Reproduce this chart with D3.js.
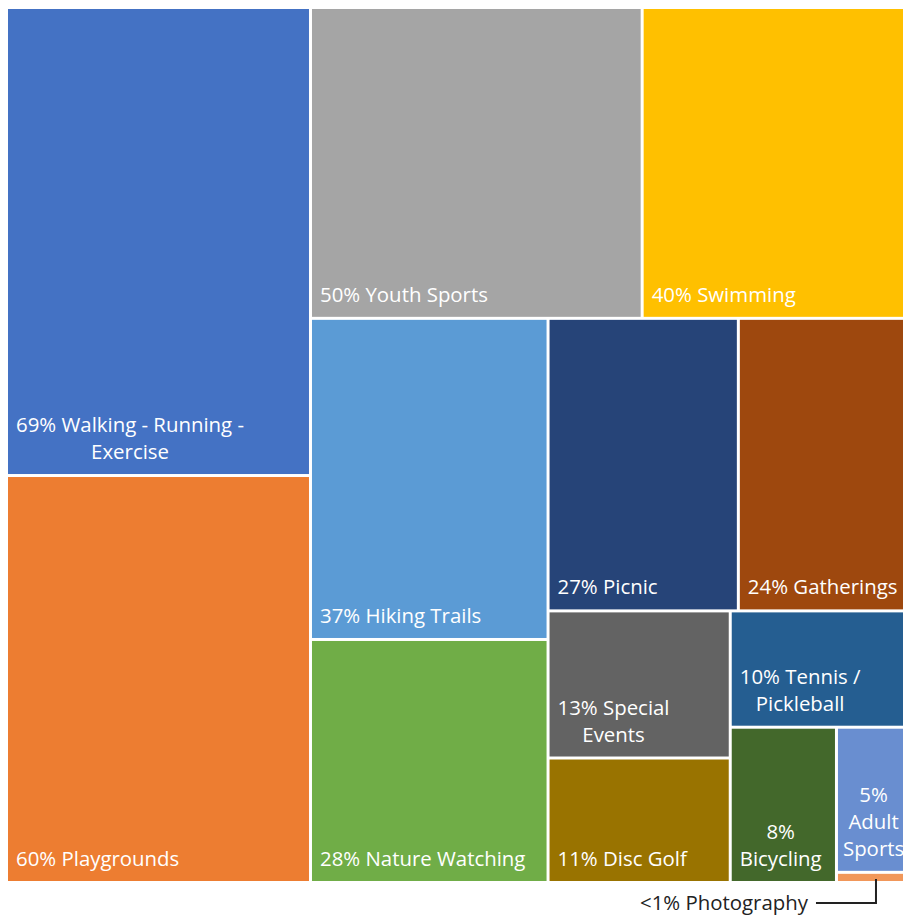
<!DOCTYPE html>
<html>
<head>
<meta charset="utf-8">
<script src="https://cdn.jsdelivr.net/npm/d3@7"></script>
<style>
  body { margin: 0; background: #fff; }
  text { font-family: "Open Sans", "Noto Sans", sans-serif; }
</style>
</head>
<body>
<div id="chart"></div>
<script>
// Activities and the share of respondents who use them
const activities = [
    'Walking - Running - Exercise', 'Playgrounds', 'Youth Sports', 'Swimming',
    'Hiking Trails', 'Nature Watching', 'Picnic', 'Gatherings',
    'Special Events', 'Disc Golf', 'Tennis / Pickleball', 'Bicycling',
    'Adult Sports', 'Photography'
];
const shares = [69, 60, 50, 40, 37, 28, 27, 24, 13, 11, 10, 8, 5, 0.35];
const shareLabels = ['69%', '60%', '50%', '40%', '37%', '28%', '27%', '24%',
    '13%', '11%', '10%', '8%', '5%', '<1%'];
const colors = ['#4472C4', '#ED7D31', '#A5A5A5', '#FFC000', '#5B9BD5', '#70AD47',
    '#264478', '#9E480E', '#636363', '#997300', '#255E91', '#43682B',
    '#698ED0', '#F1975A'];

const width = 903;
const height = 915;
const area = { x0: 8, y0: 9, x1: 906, y1: 881 };

const svg = d3.select('#chart')
    .append('svg')
    .attr('width', width)
    .attr('height', height);

const data = {
    name: 'root',
    children: activities.map((name, i) => ({
        name: name, value: shares[i], label: shareLabels[i], color: colors[i]
    }))
};

const root = d3.hierarchy(data)
    .sum((d) => d.value || 0)
    .sort((a, b) => b.value - a.value);

d3.treemap()
    .tile(d3.treemapSquarify.ratio(1))
    .size([area.x1 - area.x0, area.y1 - area.y0])
    .paddingInner(3)
    .round(false)(root);

const g = svg.append('g').attr('transform', `translate(${area.x0},${area.y0})`);

const cell = g.selectAll('g.cell')
    .data(root.leaves())
    .enter()
    .append('g')
    .attr('class', 'cell');

cell.append('rect')
    .attr('x', (d) => d.x0)
    .attr('y', (d) => d.y0)
    .attr('width', (d) => d.x1 - d.x0)
    .attr('height', (d) => d.y1 - d.y0)
    .attr('fill', (d) => d.data.color);

// Labels: bottom-left, wrapped to tile width, lines centred on the block
const fontSize = 20.4;
const lineHeight = 27;

cell.filter((d) => d.data.name !== 'Photography').each(function (d) {
    const sel = d3.select(this);
    const pad = (d.x1 - d.x0) < 80 ? 5 : 8;
    const maxW = d.x1 - d.x0 - pad - 4;
    const words = (d.data.label + ' ' + d.data.name).split(' ');
    const probe = sel.append('text').attr('font-size', fontSize);
    const measure = (s) => { probe.text(s); return probe.node().getComputedTextLength(); };

    const lines = [];
    let cur = '';
    words.forEach((w) => {
        const test = cur ? cur + ' ' + w : w;
        if (cur && measure(test) > maxW) {
            lines.push(cur);
            cur = w;
        } else {
            cur = test;
        }
    });
    if (cur) lines.push(cur);
    const widths = lines.map(measure);
    probe.remove();

    const blockW = d3.max(widths);
    const cx = d.x0 + pad + blockW / 2;
    const baseY = d.y1 - 15;

    const text = sel.append('text')
        .attr('font-size', fontSize)
        .attr('fill', '#fff')
        .attr('text-anchor', lines.length > 1 ? 'middle' : 'start');

    lines.forEach((ln, i) => {
        text.append('tspan')
            .attr('x', lines.length > 1 ? cx : d.x0 + pad)
            .attr('y', baseY - (lines.length - 1 - i) * lineHeight)
            .text(ln);
    });
});

// Call-out for the tiny Photography tile
const photo = root.leaves().find((d) => d.data.name === 'Photography');
const px = (photo.x0 + photo.x1) / 2 + 4;
const ly = 903 - area.y0;

g.append('path')
    .attr('d', `M${px},${photo.y1 - 2}V${ly}H${px - 60}`)
    .attr('fill', 'none')
    .attr('stroke', '#222')
    .attr('stroke-width', 2);

g.append('text')
    .attr('x', px - 68)
    .attr('y', ly)
    .attr('dy', '0.35em')
    .attr('text-anchor', 'end')
    .attr('font-size', fontSize)
    .attr('fill', '#222')
    .text(photo.data.label + ' ' + photo.data.name);
</script>
</body>
</html>
